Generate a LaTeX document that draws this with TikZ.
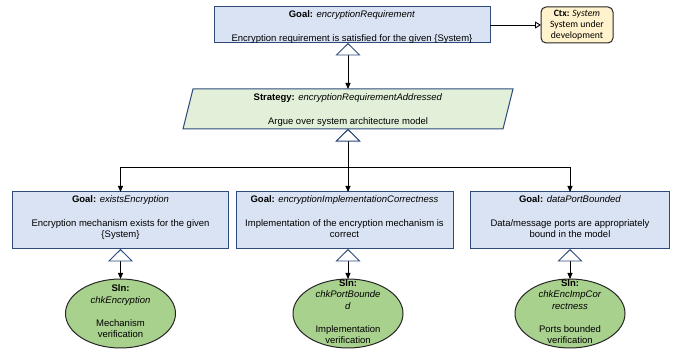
\documentclass[tikz,border=0pt]{standalone}
\usepackage{fontspec}
\setmainfont{Liberation Sans}
\newfontfamily\ctxfont{Carlito}
\usetikzlibrary{arrows.meta,shapes.geometric}

\definecolor{goalfill}{HTML}{DAE3F3}
\definecolor{gsnedge}{HTML}{2F4B7C}
\definecolor{stratfill}{HTML}{E2F0D9}
\definecolor{slnfill}{HTML}{A9D18E}
\definecolor{ctxfill}{HTML}{FFF2CC}

\begin{document}
\begin{tikzpicture}[x=1pt, y=-1pt,
  every node/.style={inner sep=0pt, outer sep=0pt},
  txt/.style={font=\fontsize{9.5}{11.5}\selectfont, align=center},
  goalbox/.style={rectangle, draw=gsnedge, fill=goalfill, line width=1pt},
  stratframe/.style={rectangle, minimum width=320pt, minimum height=40pt},
  stratshape/.style={draw=gsnedge, fill=stratfill, line width=1pt, line join=miter},
  slnshape/.style={ellipse, draw=black!85, fill=slnfill, line width=1pt,
    minimum width=110pt, minimum height=69pt},
  ctxbox/.style={rectangle, rounded corners=5pt, draw=black!85, fill=ctxfill,
    line width=1pt, minimum width=72pt, minimum height=36pt, align=center,
    font=\ctxfont\fontsize{9.7}{11}\selectfont},
  supported/.style={line width=0.9pt,
    {Triangle[open, length=12.5pt, width=25pt, color=gsnedge, fill=white, line width=0.9pt]}-{Triangle[length=6pt, width=5pt]}},
  ctxlink/.style={line width=0.9pt, -{Triangle[open, length=6pt, width=7pt, fill=white, line width=0.9pt]}}
]
\useasboundingbox (0,0) rectangle (675,352);

% top-level goal and its context
\node[goalbox, minimum width=276pt, minimum height=36pt] (g0) at (352,25) {};
\node[txt, anchor=north] (g0t) at ([yshift=-3.5pt]g0.north)
  {\textbf{Goal:} \textit{encryptionRequirement}\\[12.5pt]
   Encryption requirement is satisfied for the given \{System\}};
\node[ctxbox] (c) at (577,25) {\textbf{Ctx:} \textit{System}\\System under\\development};
\draw[ctxlink] (g0.east) -- (c.west);

% strategy (parallelogram)
\node[stratframe] (s) at (348,109) {};
\draw[stratshape] ([xshift=5pt]s.north west) -- ([xshift=5pt]s.north east)
  -- ([xshift=-5pt]s.south east) -- ([xshift=-5pt]s.south west) -- cycle;
\node[txt, anchor=north] (st) at ([yshift=-5pt]s.north)
  {\textbf{Strategy:} \textit{encryptionRequirementAddressed}\\[12.5pt]
   Argue over system architecture model};

\draw[supported] (s.north |- g0.south) -- (s.north);

% sub-goals
\node[goalbox, minimum width=216pt, minimum height=57pt] (g1) at (120.5,220.5) {};
\node[goalbox, minimum width=217pt, minimum height=57pt] (g2) at (344.5,220.5) {};
\node[goalbox, minimum width=199pt, minimum height=57pt] (g3) at (570,220.5) {};

\node[txt, anchor=north] (g1t) at ([yshift=-3.5pt]g1.north)
  {\textbf{Goal:} \textit{existsEncryption}\\[12.5pt]
   Encryption mechanism exists for the given\\\{System\}};
\node[txt, anchor=north] (g2t) at ([yshift=-3.5pt]g2.north)
  {\textbf{Goal:} \textit{encryptionImplementationCorrectness}\\[12.5pt]
   Implementation of the encryption mechanism is\\correct};
\node[txt, anchor=north] (g3t) at ([yshift=-3.5pt]g3.north)
  {\textbf{Goal:} \textit{dataPortBounded}\\[12.5pt]
   Data/message ports are appropriately\\bound in the model};

\coordinate (bar) at (348,167);
\draw[supported] (s.south) -- (s.south |- bar) -| (g1.north);
\draw[supported] (s.south) -- (g2.north -| s.south);
\draw[supported] (s.south) -- (s.south |- bar) -| (g3.north);

% solutions
\node[slnshape] (e1) at (120.5,313.5) {};
\node[slnshape] (e2) at (348,313.5) {};
\node[slnshape] (e3) at (570,313.5) {};

\node[txt] (e1t) at ([yshift=2pt]e1.center)
  {\textbf{Sln:}\\\textit{chkEncryption}\\[11.5pt]Mechanism\\verification};
\node[txt] (e2t) at ([yshift=2pt]e2.center)
  {\textbf{Sln:}\\\textit{chkPortBounde}\\\textit{d}\\[11.5pt]Implementation\\verification};
\node[txt] (e3t) at ([yshift=2pt]e3.center)
  {\textbf{Sln:}\\\textit{chkEncImpCor}\\\textit{rectness}\\[11.5pt]Ports bounded\\verification};

\draw[supported] (g1.south) -- (e1.north);
\draw[supported] (e2.north |- g2.south) -- (e2.north);
\draw[supported] (g3.south) -- (e3.north);
\end{tikzpicture}
\end{document}
